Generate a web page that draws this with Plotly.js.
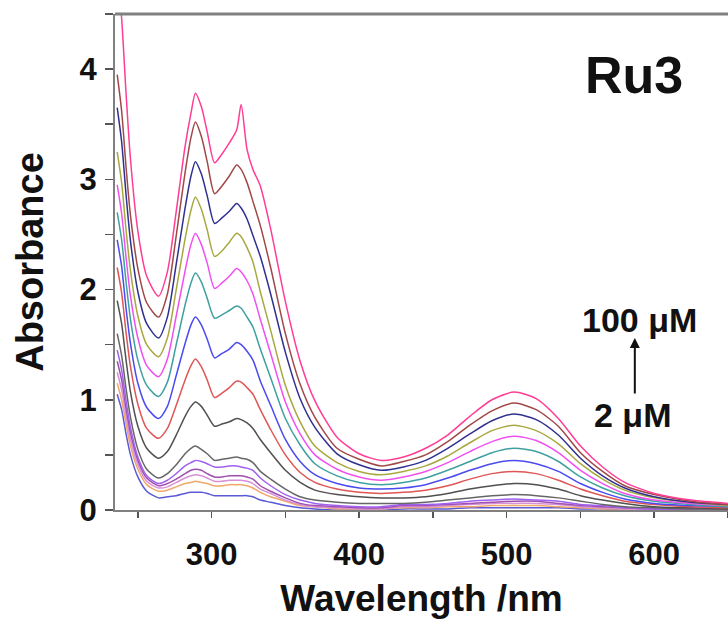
<!DOCTYPE html>
<html>
<head>
<meta charset="utf-8">
<script src="https://cdn.plot.ly/plotly-3.0.1.min.js"></script>
<style>html,body{margin:0;padding:0;background:#fff;}#chart{width:728px;height:625px;}</style>
</head>
<body>
<div id="chart"></div>
<script>
const wavelength = [236,239,242,245,250,256,264,270,276,282,286,289,293,297,302,307,312,317,320,324,328,333,340,350,360,370,385,400,415,430,445,460,475,490,505,520,535,550,565,580,600,625,650];

const abs01 = [1.05,0.91,0.69,0.50,0.30,0.17,0.11,0.12,0.13,0.15,0.16,0.16,0.16,0.15,0.13,0.13,0.13,0.13,0.13,0.13,0.12,0.09,0.07,0.04,0.02,0.01,0.00,0.00,0.00,0.01,0.01,0.01,0.02,0.02,0.02,0.02,0.02,0.01,0.01,0.00,0.00,0.00,0.00];
const abs02 = [1.15,1.00,0.78,0.58,0.37,0.23,0.17,0.18,0.21,0.24,0.25,0.26,0.25,0.24,0.22,0.22,0.23,0.23,0.23,0.22,0.20,0.16,0.12,0.08,0.04,0.03,0.01,0.01,0.01,0.02,0.02,0.03,0.03,0.04,0.04,0.04,0.03,0.02,0.01,0.01,0.00,0.00,0.00];
const abs03 = [1.25,1.09,0.85,0.64,0.41,0.26,0.20,0.21,0.25,0.29,0.31,0.32,0.31,0.29,0.26,0.26,0.27,0.27,0.27,0.26,0.24,0.19,0.15,0.09,0.05,0.03,0.02,0.01,0.01,0.03,0.03,0.04,0.05,0.06,0.06,0.06,0.05,0.03,0.02,0.01,0.01,0.01,0.00];
const abs04 = [1.35,1.18,0.92,0.70,0.45,0.29,0.22,0.24,0.28,0.33,0.36,0.37,0.36,0.33,0.30,0.30,0.31,0.31,0.31,0.30,0.28,0.22,0.17,0.11,0.06,0.04,0.03,0.02,0.02,0.04,0.04,0.05,0.06,0.07,0.08,0.08,0.06,0.04,0.03,0.02,0.01,0.01,0.00];
const abs05 = [1.45,1.27,0.99,0.75,0.48,0.31,0.24,0.27,0.33,0.40,0.43,0.45,0.44,0.42,0.39,0.39,0.40,0.40,0.39,0.38,0.36,0.29,0.22,0.14,0.09,0.06,0.04,0.03,0.03,0.05,0.05,0.06,0.08,0.09,0.10,0.09,0.08,0.05,0.04,0.02,0.01,0.01,0.01];
const abs06 = [1.60,1.40,1.10,0.84,0.55,0.37,0.29,0.33,0.41,0.51,0.56,0.58,0.55,0.51,0.45,0.46,0.47,0.48,0.47,0.46,0.43,0.35,0.28,0.19,0.12,0.09,0.07,0.06,0.06,0.06,0.07,0.09,0.11,0.13,0.14,0.13,0.11,0.08,0.05,0.03,0.02,0.01,0.01];
const abs07 = [1.90,1.69,1.36,1.07,0.76,0.56,0.47,0.53,0.68,0.85,0.94,0.98,0.94,0.86,0.76,0.78,0.80,0.83,0.82,0.79,0.74,0.64,0.52,0.36,0.25,0.18,0.14,0.12,0.11,0.11,0.12,0.15,0.19,0.22,0.24,0.23,0.19,0.13,0.09,0.06,0.03,0.02,0.01];
const abs08 = [2.20,1.97,1.61,1.30,0.96,0.74,0.65,0.74,0.95,1.18,1.31,1.37,1.30,1.18,1.02,1.06,1.11,1.17,1.16,1.11,1.05,0.91,0.73,0.50,0.34,0.25,0.19,0.16,0.15,0.16,0.18,0.22,0.28,0.33,0.35,0.33,0.27,0.19,0.13,0.08,0.05,0.03,0.02];
const abs09 = [2.45,2.21,1.83,1.51,1.15,0.93,0.83,0.94,1.22,1.51,1.68,1.75,1.68,1.55,1.38,1.42,1.46,1.52,1.50,1.44,1.36,1.17,0.95,0.64,0.44,0.32,0.24,0.20,0.19,0.20,0.23,0.29,0.36,0.42,0.45,0.42,0.35,0.24,0.16,0.10,0.06,0.04,0.03];
const abs10 = [2.70,2.45,2.07,1.73,1.36,1.13,1.03,1.16,1.50,1.86,2.06,2.15,2.07,1.92,1.74,1.77,1.81,1.85,1.83,1.75,1.66,1.46,1.20,0.83,0.59,0.42,0.31,0.25,0.23,0.25,0.29,0.36,0.44,0.52,0.56,0.53,0.44,0.30,0.20,0.13,0.08,0.05,0.03];
const abs11 = [2.95,2.69,2.29,1.94,1.56,1.31,1.21,1.37,1.76,2.17,2.41,2.51,2.41,2.24,2.01,2.06,2.12,2.19,2.16,2.08,1.96,1.73,1.42,0.98,0.69,0.50,0.37,0.30,0.27,0.30,0.35,0.43,0.53,0.62,0.67,0.63,0.52,0.36,0.24,0.15,0.09,0.06,0.04];
const abs12 = [3.25,2.97,2.54,2.17,1.76,1.50,1.39,1.56,2.00,2.46,2.72,2.84,2.73,2.54,2.30,2.35,2.43,2.51,2.48,2.38,2.25,1.98,1.63,1.13,0.80,0.58,0.43,0.35,0.32,0.35,0.40,0.49,0.61,0.72,0.77,0.72,0.60,0.42,0.28,0.18,0.11,0.07,0.04];
const abs13 = [3.65,3.34,2.86,2.44,1.98,1.69,1.56,1.75,2.23,2.74,3.03,3.16,3.05,2.85,2.60,2.65,2.71,2.78,2.74,2.64,2.49,2.30,1.96,1.43,1.01,0.75,0.51,0.41,0.36,0.39,0.45,0.56,0.69,0.81,0.87,0.82,0.68,0.47,0.31,0.20,0.12,0.07,0.05];
const abs14 = [3.95,3.62,3.11,2.67,2.19,1.88,1.75,1.96,2.49,3.06,3.38,3.52,3.39,3.16,2.87,2.94,3.03,3.13,3.09,2.97,2.80,2.58,2.20,1.60,1.14,0.84,0.56,0.46,0.40,0.44,0.50,0.62,0.77,0.90,0.97,0.91,0.76,0.52,0.35,0.22,0.14,0.08,0.05];
const abs15 = [4.90,4.46,3.78,3.18,2.53,2.12,1.94,2.16,2.71,3.30,3.60,3.78,3.66,3.43,3.15,3.23,3.33,3.45,3.68,3.27,3.09,2.94,2.55,1.89,1.35,0.99,0.66,0.51,0.45,0.48,0.56,0.68,0.85,1.00,1.07,1.01,0.83,0.58,0.39,0.25,0.15,0.09,0.06];

const seriesNames = ["Spectrum 1","Spectrum 2","Spectrum 3","Spectrum 4","Spectrum 5","Spectrum 6","Spectrum 7","Spectrum 8","Spectrum 9","Spectrum 10","Spectrum 11","Spectrum 12","Spectrum 13","Spectrum 14","Spectrum 15"];
const seriesValues = [abs01,abs02,abs03,abs04,abs05,abs06,abs07,abs08,abs09,abs10,abs11,abs12,abs13,abs14,abs15];
const seriesColors = ["#5a5ad6","#f0a868","#d890d8","#a050b0","#a060f0","#666666","#505050","#e05555","#4a4af0","#40a0a0","#f050f0","#a8a840","#303090","#a04848","#ff3d95"];

const xTickVals = [300,400,500,600];
const yTickVals = [0,1,2,3,4];

const traces = seriesValues.map((vals, i) => ({
  x: wavelength,
  y: vals,
  type: 'scatter',
  mode: 'lines',
  name: seriesNames[i],
  line: {color: seriesColors[i], width: 1.5, shape: 'spline', smoothing: 0.7}
}));

const FAM = '"Liberation Sans", Arial, sans-serif';
const tickFont = {family: FAM, size: 31, color: '#111', weight: 'bold'};

const layout = {
  width: 728, height: 625,
  margin: {l: 115, r: 0, t: 14, b: 115},
  paper_bgcolor: '#fff', plot_bgcolor: '#fff',
  showlegend: false,
  xaxis: {
    range: [234.5, 650],
    tickvals: xTickVals,
    ticks: 'outside', ticklen: 6, tickwidth: 1.5, tickcolor: '#555',
    ticklabelstandoff: 10,
    showline: true, linecolor: '#808080', linewidth: 2,
    showgrid: false, zeroline: false,
    tickfont: tickFont,
    minor: {dtick: 50, tick0: 0, ticks: 'outside', ticklen: 6, tickwidth: 1.5, tickcolor: '#555', showgrid: false},
    title: {text: 'Wavelength /nm', font: {family: FAM, size: 37, color: '#111', weight: 'bold'}, standoff: 14}
  },
  yaxis: {
    range: [0, 4.5],
    tickvals: yTickVals,
    ticks: 'outside', ticklen: 8, tickwidth: 1.5, tickcolor: '#555',
    ticklabelstandoff: 2,
    showline: true, linecolor: '#808080', linewidth: 2,
    showgrid: false, zeroline: false,
    tickfont: tickFont,
    minor: {dtick: 0.5, tick0: 0, ticks: 'outside', ticklen: 8, tickwidth: 1.5, tickcolor: '#555', showgrid: false},
    title: {text: 'Absorbance', font: {family: FAM, size: 38, color: '#111', weight: 'bold'}, standoff: 24}
  },
  shapes: [
    {type: 'line', xref: 'paper', yref: 'paper', x0: 0, x1: 1, y0: 1, y1: 1, line: {color: '#808080', width: 3}}
  ],
  annotations: [
    {text: 'Ru3', xref: 'paper', yref: 'paper', x: 0.847, y: 0.877, xanchor: 'center', yanchor: 'middle', showarrow: false,
     font: {family: FAM, size: 52, color: '#111', weight: 'bold'}},
    {text: '100 μM', xref: 'paper', yref: 'paper', x: 0.856, y: 0.383, xanchor: 'center', yanchor: 'middle', showarrow: false,
     font: {family: FAM, size: 34, color: '#111', weight: 'bold'}},
    {text: '2 μM', xref: 'paper', yref: 'paper', x: 0.844, y: 0.192, xanchor: 'center', yanchor: 'middle', showarrow: false,
     font: {family: FAM, size: 34, color: '#111', weight: 'bold'}},
    {text: '', xref: 'paper', yref: 'paper', x: 0.848, y: 0.347, showarrow: true, ax: 0, ay: 57,
     arrowhead: 2, arrowsize: 1, arrowwidth: 2, arrowcolor: '#111'}
  ]
};

Plotly.newPlot('chart', traces, layout, {displayModeBar: false, staticPlot: true});
</script>
</body>
</html>
